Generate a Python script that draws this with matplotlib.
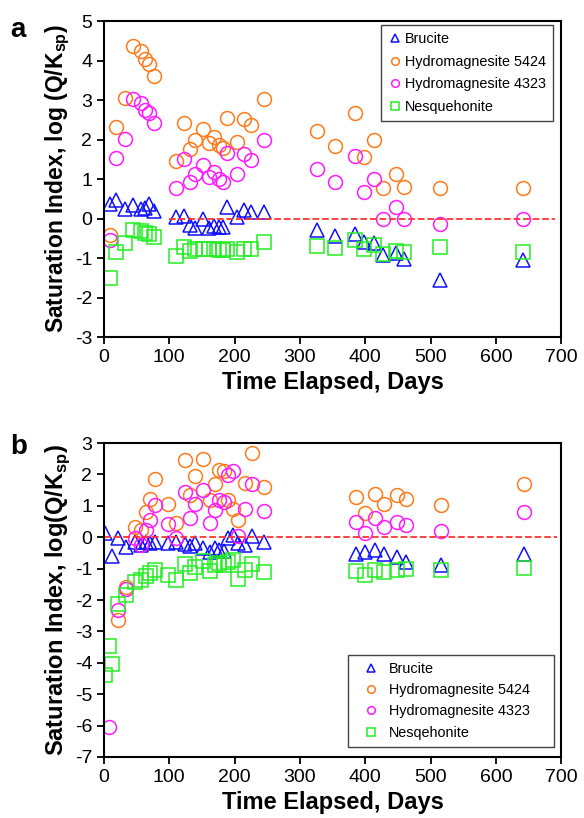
import numpy as np
import matplotlib
matplotlib.use("Agg")
import matplotlib.pyplot as plt

plt.rcParams['font.family'] = ['Liberation Sans', 'DejaVu Sans']
plt.rcParams['mathtext.fontset'] = 'custom'
plt.rcParams['mathtext.rm'] = 'Liberation Sans'
plt.rcParams['mathtext.bf'] = 'Liberation Sans:bold'
plt.rcParams['axes.unicode_minus'] = False

nan = np.nan

# ---- panel a data ----
days_a = [10, 19, 32, 45, 56, 63, 69, 77,
          110, 123, 131, 139, 151, 161, 168, 176, 183, 189, 203, 215, 225, 245,
          326, 354, 384, 398, 413, 427, 447, 460, 515, 641]
brucite_a = [0.37, 0.47, 0.23, 0.34, 0.23, 0.26, 0.37, 0.20,
             0.03, 0.07, -0.16, -0.25, -0.02, -0.25, -0.19, -0.21, -0.21, 0.30, 0.03, 0.22, 0.17, 0.16,
             -0.29, -0.43, -0.38, -0.59, -0.61, -0.92, -0.88, -1.03, -1.56, -1.05]
hydro5424_a = [-0.42, 2.32, 3.05, 4.37, 4.25, 4.04, 3.90, 3.60,
               1.46, 2.43, 1.76, 2.00, 2.27, 1.90, 2.07, 1.86, 1.78, 2.54, 1.93, 2.51, 2.37, 3.03,
               2.22, 1.84, 2.68, 1.55, 1.98, 0.76, 1.13, 0.80, 0.78, 0.78]
hydro4323_a = [-0.54, 1.52, 2.01, 3.03, 2.93, 2.76, 2.66, 2.41,
               0.76, 1.50, 0.93, 1.12, 1.35, 1.06, 1.17, 1.00, 0.93, 1.65, 1.13, 1.63, 1.48, 1.99,
               1.25, 0.93, 1.58, 0.66, 1.00, 0.00, 0.28, 0.00, -0.14, 0.00]
nesq_a = [-1.50, -0.86, -0.61, -0.29, -0.31, -0.36, -0.39, -0.46,
          -0.95, -0.71, -0.82, -0.76, -0.76, -0.77, -0.78, -0.80, -0.80, -0.76, -0.84, -0.76, -0.77, -0.59,
          -0.69, -0.74, -0.54, -0.77, -0.67, -0.90, -0.82, -0.86, -0.73, -0.86]

# ---- panel b data ----
days_b = [2, 7, 12, 22, 34, 47, 57, 64, 70, 78, 98, 110, 124, 131, 140, 152, 162, 170, 176, 184,
          190, 198, 205, 216, 226, 245,
          386, 400, 415, 428, 448, 462, 516, 643]
brucite_b = [0.14, nan, -0.60, -0.04, -0.31, -0.15, -0.25, -0.15, -0.20, -0.15, -0.20, -0.15, -0.23, -0.29,
             -0.20, -0.34, -0.47, -0.34, -0.41, -0.45, -0.04, 0.06, -0.20, -0.25, 0.03, -0.15,
             -0.52, -0.47, -0.41, -0.54, -0.63, -0.79, -0.89, -0.52]
hydro5424_b = [nan, nan, nan, -2.64, -1.60, 0.33, 0.22, 0.81, 1.23, 1.87, 1.07, 0.44, 2.45, 1.34,
               1.95, 2.50, 1.20, 1.71, 2.13, 2.11, 1.18, 0.90, 0.56, 1.73, 2.69, 1.60,
               1.28, 0.77, 1.39, 1.05, 1.34, 1.23, 1.02, 1.69]
hydro4323_b = [nan, -6.04, nan, -2.32, -1.65, -0.04, -0.25, 0.22, 0.54, 1.02, 0.41, -0.04, 1.44, 0.60,
               1.05, 1.50, 0.44, 0.86, 1.18, 1.12, 1.97, 2.11, 0.03, 0.89, 1.71, 0.84,
               0.49, 0.14, 0.60, 0.33, 0.49, 0.38, 0.20, 0.79]
nesq_b = [-4.40, -3.47, -4.05, -2.13, -1.84, -1.42, -1.37, -1.24, -1.15, -1.03, -1.20, -1.35, -0.86, -1.14,
          -0.96, -0.75, -1.08, -0.89, -0.83, -0.87, -0.79, -0.71, -1.34, -1.03, -0.86, -1.10,
          -1.07, -1.19, -1.05, -1.12, -1.03, -1.02, -1.05, -0.98]

blue = '#1010ff'
orange = '#ff7a1a'
magenta = '#ff1aff'
green = '#22ee22'

fig = plt.figure(figsize=(5.84, 8.18), dpi=100)
ax1 = fig.add_axes([0.178, 0.588, 0.783, 0.3863])
ax2 = fig.add_axes([0.178, 0.0746, 0.783, 0.3838])


def draw(ax, days, bru, h54, h43, nes, names):
    ms = 10
    ax.plot(days, bru, '^', ms=ms, mfc='none', mec=blue, mew=1.1, label=names[0])
    ax.plot(days, h54, 'o', ms=ms, mfc='none', mec=orange, mew=1.1, label=names[1])
    ax.plot(days, h43, 'o', ms=ms, mfc='none', mec=magenta, mew=1.1, label=names[2])
    ax.plot(days, nes, 's', ms=ms, mfc='none', mec=green, mew=1.1, label=names[3])
    ax.set_xlim(0, 700)
    ax.set_xticks(range(0, 701, 100))
    ax.tick_params(labelsize=14, direction='out', length=5, width=1.3)
    for s in ax.spines.values():
        s.set_linewidth(1.5)
    ax.set_xlabel('Time Elapsed, Days', fontsize=17, fontweight='bold', labelpad=4)


draw(ax1, days_a, brucite_a, hydro5424_a, hydro4323_a, nesq_a,
     ['Brucite', 'Hydromagnesite 5424', 'Hydromagnesite 4323', 'Nesquehonite'])
ax1.plot([100, 690], [0, 0], '--', color='#ff3333', lw=1.3)
ax1.set_ylim(-3, 5)
ax1.set_yticks(range(-3, 6))
ax1.set_ylabel(r'Saturation Index, log (Q/K$_{\mathbf{sp}}$)', fontsize=16.5, fontweight='bold', labelpad=2)
leg1 = ax1.legend(loc='upper right', bbox_to_anchor=(0.983, 0.988), borderaxespad=0,
                  fontsize=10.4, markerscale=0.55, handlelength=1.0, handletextpad=0.2,
                  labelspacing=0.6, fancybox=False, edgecolor='#444444', framealpha=1,
                  borderpad=0.5)
leg1.get_frame().set_linewidth(1.0)

draw(ax2, days_b, brucite_b, hydro5424_b, hydro4323_b, nesq_b,
     ['Brucite', 'Hydromagnesite 5424', 'Hydromagnesite 4323', 'Nesqehonite'])
ax2.plot([0, 693], [0, 0], '--', color='#ff3333', lw=1.3)
ax2.set_ylim(-7, 3)
ax2.set_yticks(range(-7, 4))
ax2.set_ylabel(r'Saturation Index, log(Q/K$_{\mathbf{sp}}$)', fontsize=17, fontweight='bold', labelpad=2)
leg2 = ax2.legend(loc='lower left', bbox_to_anchor=(0.534, 0.032, 0.451, 0.29), borderaxespad=0,
                  mode='expand', fontsize=10.4, markerscale=0.55, handlelength=2.2, handletextpad=0.1,
                  labelspacing=0.5, fancybox=False, edgecolor='#444444', framealpha=1,
                  borderpad=0.5)
leg2.get_frame().set_linewidth(1.0)

fig.text(0.018, 0.963, 'a', fontsize=20, fontweight='bold', va='center')
fig.text(0.018, 0.453, 'b', fontsize=20, fontweight='bold', va='center')

fig.savefig('out.png', dpi=100)
